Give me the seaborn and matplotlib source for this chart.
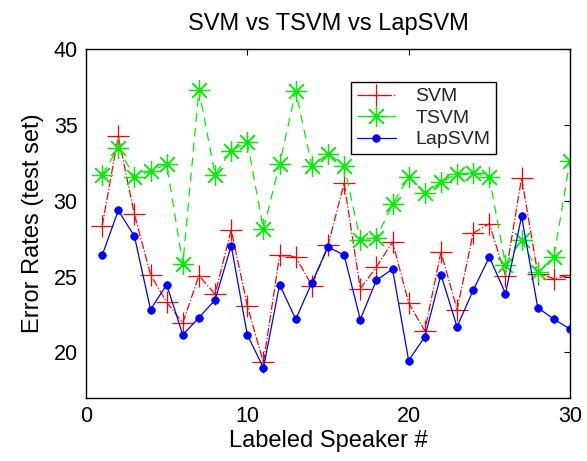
import numpy as np
import pandas as pd
import matplotlib
matplotlib.use("Agg")
import matplotlib.pyplot as plt
import seaborn as sns

# Test-set error rate per number of labeled speakers
speakers = list(range(1, 31))
svm = [28.33, 34.25, 29.10, 25.13, 23.31, 21.95, 25.07, 23.84, 28.09, 23.07,
       19.34, 26.40, 26.29, 24.41, 27.06, 31.16, 24.21, 25.63, 27.28, 23.27,
       21.42, 26.62, 22.83, 27.87, 28.49, 25.07, 31.51, 25.20, 24.87, 25.09]
tsvm = [31.71, 33.49, 31.55, 31.93, 32.43, 25.81, 37.30, 31.71, 33.31, 33.86,
        28.11, 32.43, 37.21, 32.28, 33.09, 32.32, 27.43, 27.57, 29.76, 31.55,
        30.50, 31.22, 31.77, 31.82, 31.55, 25.79, 27.43, 25.30, 26.29, 32.65]
lapsvm = [26.40, 29.36, 27.67, 22.83, 24.47, 21.16, 22.30, 23.46, 27.04, 21.16,
          18.99, 24.47, 22.19, 24.60, 26.95, 26.42, 22.17, 24.76, 25.50, 19.47,
          21.03, 25.13, 21.69, 24.10, 26.29, 23.88, 28.97, 22.96, 22.19, 21.55]

x_ticks = [0, 10, 20, 30]
y_ticks = [20, 25, 30, 35, 40]

sns.set_theme(style="white")
plt.rcParams["font.family"] = ["Liberation Sans", "DejaVu Sans"]
plt.rcParams["xtick.direction"] = "in"
plt.rcParams["ytick.direction"] = "in"

fig = plt.figure(figsize=(5.87, 4.61), dpi=100)
ax = fig.add_axes([86 / 587, 1 - 398 / 461, (570 - 86) / 587, (398 - 49) / 461])

df = pd.DataFrame({"speaker": speakers, "SVM": svm, "TSVM": tsvm, "LapSVM": lapsvm})

sns.lineplot(data=df, x="speaker", y="SVM", ax=ax, color="#ff0000",
             linestyle="-.", linewidth=0.9, marker="+", markersize=16,
             markeredgewidth=0.9, markeredgecolor="#ff0000", label="SVM")
sns.lineplot(data=df, x="speaker", y="TSVM", ax=ax, color="#00ee00",
             linestyle=(0, (7, 5)), linewidth=0.9, marker=(8, 2, 0), markersize=15,
             markeredgewidth=0.9, markeredgecolor="#00ee00", label="TSVM")
sns.lineplot(data=df, x="speaker", y="LapSVM", ax=ax, color="#0000ff",
             linestyle="-", linewidth=0.9, marker="o", markersize=5.5,
             markeredgewidth=0.5, markeredgecolor="#0000ff",
             markerfacecolor="#0000ff", label="LapSVM")

ax.set_xlim(0, 30)
ax.set_ylim(17, 40)
ax.set_xticks(x_ticks)
ax.set_yticks(y_ticks)
ax.tick_params(axis="both", which="both", top=True, right=True, length=4,
               width=0.8, color="black", labelsize=15.5, pad=6, labelcolor="black")
for sp in ax.spines.values():
    sp.set_color("black")
    sp.set_linewidth(1.0)

ax.set_title("SVM vs TSVM vs LapSVM", fontsize=17, pad=14, color="black")
ax.set_xlabel("Labeled Speaker #", fontsize=17, color="black", labelpad=2)
ax.set_ylabel("Error Rates (test set)", fontsize=17, color="black", labelpad=7)

leg = ax.legend(loc="upper left", bbox_to_anchor=(351 / 587, 1 - 82 / 461),
                bbox_transform=fig.transFigure, fontsize=14, frameon=True,
                fancybox=False, edgecolor="black", framealpha=1,
                handlelength=2.0, borderpad=0.3, labelspacing=0.2,
                handletextpad=1.0, borderaxespad=0)
leg.get_frame().set_linewidth(1.0)

fig.savefig("out.png", dpi=100)
